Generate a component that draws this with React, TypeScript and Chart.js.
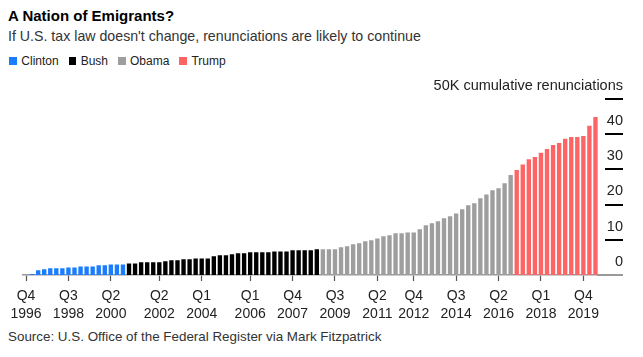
import React, { useEffect, useRef } from 'react';
import { Chart, registerables } from 'chart.js';

Chart.register(...registerables);

// Cumulative renunciations, thousands, one value per quarter
const clintonValues = [0, 0.25, 1.33, 1.6, 1.9, 1.9, 1.9, 2.15, 2.15, 2.45, 2.45, 2.45, 2.75, 2.75, 3.0, 3.0, 3.0];
const bushValues = [3.3, 3.3, 3.6, 3.6, 3.6, 3.6, 3.9, 4.2, 4.2, 4.5, 4.5, 4.7, 4.7, 4.7, 5.3, 5.6, 5.6, 5.9, 6.15, 6.15, 6.45, 6.45, 6.45, 6.45, 6.7, 6.7, 6.7, 7.0, 7.0, 7.0, 7.0, 7.3];
const obamaValues = [7.3, 7.3, 7.3, 7.9, 8.2, 8.75, 9.05, 9.6, 9.85, 10.4, 11.0, 11.3, 11.85, 11.85, 12.1, 12.1, 13.0, 14.1, 14.7, 15.25, 16.1, 16.7, 17.5, 18.7, 19.8, 20.4, 21.8, 22.9, 24.1, 24.65, 26.1, 28.4];
const trumpValues = [29.8, 31.4, 32.9, 33.5, 34.7, 35.8, 36.9, 37.5, 38.7, 39.2, 39.2, 39.5, 42.4, 44.9];

const seriesNames = ['Clinton', 'Bush', 'Obama', 'Trump'];
const seriesColors = ['#1a7cff', '#000000', '#9e9e9e', '#ff6464'];

const startYear = 1996;
const startQuarter = 4;

const shownTicks = ['Q4 1996', 'Q3 1998', 'Q2 2000', 'Q2 2002', 'Q1 2004', 'Q1 2006', 'Q4 2007', 'Q3 2009', 'Q2 2011', 'Q4 2012', 'Q3 2014', 'Q2 2016', 'Q1 2018', 'Q4 2019'];

const yTickValues = [0, 10, 20, 30, 40, 50];
const yTopLabel = '50K cumulative renunciations';

const FONT = '"Liberation Sans", Arial, Helvetica, sans-serif';

const allSeries = [clintonValues, bushValues, obamaValues, trumpValues];
const total = allSeries.reduce((s, a) => s + a.length, 0);
const quarters: string[] = [];
{
  let y = startYear;
  let q = startQuarter;
  for (let i = 0; i < total; i++) {
    quarters.push(`Q${q} ${y}`);
    q++;
    if (q > 4) { q = 1; y++; }
  }
}

const Y_AXIS_WIDTH = 24.5;

// Short tick marks of the right-hand value axis (gap after the plot, baseline continues at 0)
const yTickMarks = {
  id: 'yTickMarks',
  afterDraw(chart: any) {
    const ctx = chart.ctx;
    const y = chart.scales.y;
    const x0 = Math.round(chart.chartArea.right);
    const x1 = Math.round(chart.chartArea.right + Y_AXIS_WIDTH);
    ctx.save();
    ctx.setTransform(1, 0, 0, 1, 0, 0);
    ctx.globalAlpha = 1;
    ctx.globalCompositeOperation = 'source-over';
    ctx.beginPath();
    ctx.rect(0, 0, chart.width, chart.height);
    ctx.clip();
    y.ticks.forEach((t: any) => {
      const p = Math.round(y.getPixelForValue(t.value));
      if (t.value === 0) {
        ctx.fillStyle = '#999999';
        ctx.fillRect(x0 - 2, p - 1, x1 - x0 + 2, 2);
      } else {
        ctx.fillStyle = '#000000';
        ctx.fillRect(x0 + 6, p - 1, x1 - x0 - 6, 2);
      }
    });
    ctx.restore();
  },
};

export default function App() {
  const ref = useRef<HTMLCanvasElement>(null);

  useEffect(() => {
    if (!ref.current) return;
    let offset = 0;
    const datasets = allSeries.map((vals, k) => {
      const data: (number | null)[] = quarters.map(() => null);
      vals.forEach((v, i) => { data[offset + i] = v; });
      offset += vals.length;
      return {
        label: seriesNames[k],
        data,
        backgroundColor: seriesColors[k],
        borderWidth: 0,
        categoryPercentage: 1,
        barPercentage: 0.72,
      };
    });

    const chart = new Chart(ref.current, {
      type: 'bar',
      data: { labels: quarters, datasets },
      plugins: [yTickMarks],
      options: {
        animation: false,
        responsive: true,
        maintainAspectRatio: false,
        layout: { padding: { left: 15, right: 12, top: 25, bottom: 0 } },
        plugins: {
          legend: { display: false },
          tooltip: { enabled: false },
        },
        scales: {
          x: {
            stacked: true,
            offset: true,
            afterFit: (s: any) => { s.paddingLeft = 0; s.paddingRight = 0; s.height = 48; },
            grid: {
              display: true,
              drawOnChartArea: false,
              offset: false,
              tickLength: 6,
              tickColor: (ctx: any) => (shownTicks.includes(quarters[ctx.index]) ? '#555555' : 'rgba(0,0,0,0)'),
              tickWidth: 1.2,
            },
            border: { display: true, color: '#999999', width: 1.5 },
            ticks: {
              autoSkip: false,
              maxRotation: 0,
              minRotation: 0,
              padding: 6,
              color: '#222222',
              font: { family: FONT, size: 14, lineHeight: 1.28 },
              callback: (_v: any, i: number) => (shownTicks.includes(quarters[i]) ? quarters[i].split(' ') : ''),
            },
          },
          y: {
            stacked: true,
            position: 'right',
            min: 0,
            max: 50,
            afterBuildTicks: (scale: any) => { scale.ticks = yTickValues.map((v) => ({ value: v })); },
            afterFit: (scale: any) => { scale.width = Y_AXIS_WIDTH; scale.paddingTop = 0; scale.paddingBottom = 0; },
            border: { display: false },
            grid: { display: false },
            ticks: {
              mirror: true,
              crossAlign: 'near',
              padding: Y_AXIS_WIDTH,
              labelOffset: -13.3,
              color: '#222222',
              font: { family: FONT, size: 14.5 },
              callback: (v: any) => (v === 50 ? yTopLabel : String(v)),
            },
          },
        },
      } as any,
    });
    return () => chart.destroy();
  }, []);

  return (
    <div style={{ fontFamily: FONT, width: 627, color: '#222' }}>
      <div style={{ fontSize: 15, fontWeight: 'bold', lineHeight: '16px', color: '#000' }}>A Nation of Emigrants?</div>
      <div style={{ fontSize: 14.2, lineHeight: '24px', color: '#333' }}>
        If U.S. tax law doesn't change, renunciations are likely to continue
      </div>
      <div style={{ display: 'flex', alignItems: 'center', height: 26, fontSize: 12, marginLeft: 1.3 }}>
        {seriesNames.map((n, i) => (
          <div key={n} style={{ display: 'flex', alignItems: 'center', marginRight: 10 }}>
            <span style={{ display: 'inline-block', width: 7.5, height: 7.5, background: seriesColors[i], marginRight: 4.5 }} />
            <span>{n}</span>
          </div>
        ))}
      </div>
      <div style={{ position: 'relative', width: 627, height: 249 }}>
        <canvas ref={ref} />
      </div>
      <div style={{ fontSize: 13.4, lineHeight: '16px', marginTop: 6, color: '#333' }}>
        Source: U.S. Office of the Federal Register via Mark Fitzpatrick
      </div>
    </div>
  );
}
